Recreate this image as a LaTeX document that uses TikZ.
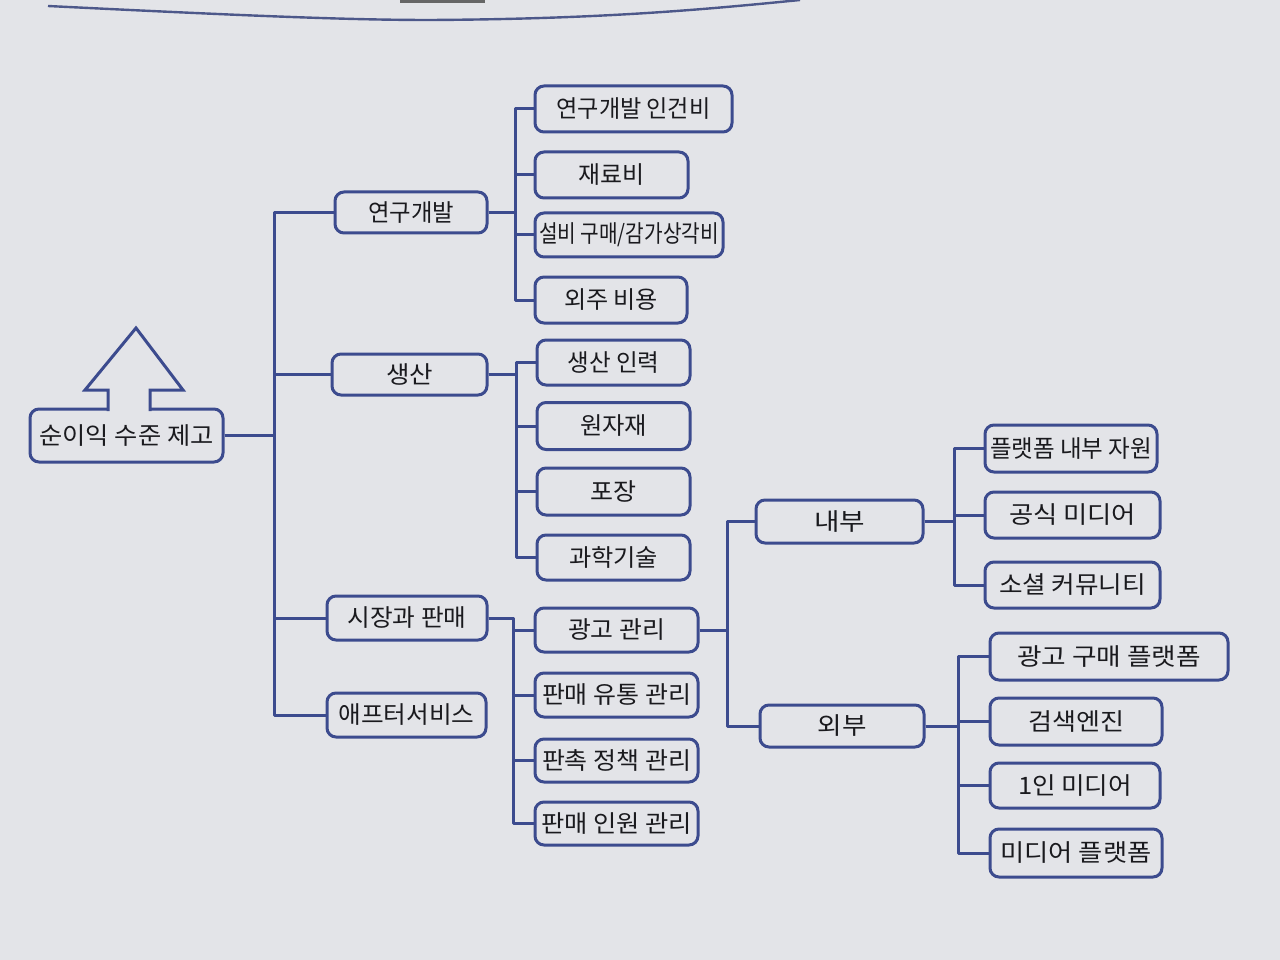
\documentclass[tikz,border=0pt]{standalone}
\usepackage{fontspec}
\newfontfamily\kr{Noto Sans CJK KR}
\definecolor{bg}{HTML}{E3E4E8}
\definecolor{ln}{HTML}{3C4B8E}
\definecolor{tx}{HTML}{1A1A1E}
\newsavebox\fitbox
\newcommand{\fitw}[2]{\sbox\fitbox{#2}\pgfmathsetmacro\fitr{(#1+4)/\the\wd\fitbox}\scalebox{\fitr}[1]{\usebox\fitbox}}
\tikzset{
  box/.style={draw=ln, line width=3pt, rounded corners=9pt, fill=bg, text=tx,
    font=\kr\fontsize{24}{27}\selectfont, inner sep=0pt, align=center},
  conn/.style={draw=ln, line width=3pt, line join=round},
}
\newcommand{\bx}[7]{\node[box, minimum width=#4pt, minimum height=#5pt] (#1) at (#2,#3) {\fitw{#6}{#7}};}
\begin{document}
\begin{tikzpicture}[x=1pt,y=-1pt]
\useasboundingbox (0,0) rectangle (1280,960);
\fill[bg] (0,0) rectangle (1280,960);
% page edge curve
\draw[ln!75!gray, line width=2.4pt] (48,6) .. controls (250,16) and (350,20) .. (430,20) .. controls (600,19) and (700,10) .. (800,0);
\fill[gray!80!black] (400,0) rectangle (485,3);

% nodes
\bx{main}{126.5}{435.5}{193}{53}{170}{순이익 수준 제고}
\bx{rd}{411}{212.5}{152}{41}{82}{연구개발}
\bx{prod}{409.5}{374.5}{155}{41}{43}{생산}
\bx{mkt}{407}{618}{160}{44}{115}{시장과 판매}
\bx{as}{406.5}{715}{159}{44}{132}{애프터서비스}

\bx{r1}{633.5}{109}{197}{46}{150}{연구개발 인건비}
\bx{r2}{611.5}{175}{153}{46}{62}{재료비}
\bx{r3}{629}{235}{188}{44}{176}{설비 구매/감가상각비}
\bx{r4}{611}{300}{152}{46}{90}{외주 비용}

\bx{p1}{613.5}{362.5}{153}{45}{88}{생산 인력}
\bx{p2}{613.5}{426}{153}{47}{63}{원자재}
\bx{p3}{613.5}{491.5}{153}{47}{42}{포장}
\bx{p4}{613.5}{557.5}{153}{45}{85}{과학기술}

\bx{m1}{616.5}{630}{163}{44}{93}{광고 관리}
\bx{m2}{616.5}{695}{163}{44}{145}{판매 유통 관리}
\bx{m3}{616.5}{760.5}{163}{43}{145}{판촉 정책 관리}
\bx{m4}{616.5}{823.5}{163}{43}{147}{판매 인원 관리}

\bx{in}{839.5}{521.5}{167}{43}{47}{내부}
\bx{ex}{842}{726}{164}{42}{45}{외부}

\bx{i1}{1071}{448.5}{172}{47}{158}{플랫폼 내부 자원}
\bx{i2}{1072.5}{515}{175}{46}{123}{공식 미디어}
\bx{i3}{1072.5}{585}{175}{46}{143}{소셜 커뮤니티}

\bx{e1}{1109}{656.5}{238}{47}{180}{광고 구매 플랫폼}
\bx{e2}{1076}{721.5}{172}{47}{92}{검색엔진}
\bx{e3}{1075}{785.5}{170}{45}{110}{1인 미디어}
\bx{e4}{1076}{853}{172}{48}{147}{미디어 플랫폼}

% up arrow on main box
\fill[bg] (109.5,405) rectangle (148.5,412);
\filldraw[draw=ln, fill=bg, line width=3pt, line join=miter]
  (108,411) -- (108,390) -- (85,390) -- (136,328) -- (183,390) -- (150,390) -- (150,411);

% connectors
\foreach \c in {rd,prod,mkt,as} \draw[conn] (main.east) -- ++(50,0) |- (\c.west);
\foreach \c in {r1,r2,r3,r4} \draw[conn] (rd.east) -- ++(27,0) |- (\c.west);
\foreach \c in {p1,p2,p3,p4} \draw[conn] (prod.east) -- ++(28,0) |- (\c.west);
\foreach \c in {m1,m2,m3,m4} \draw[conn] (mkt.east) -- ++(25,0) |- (\c.west);
\foreach \c in {in,ex} \draw[conn] (m1.east) -- ++(28,0) |- (\c.west);
\foreach \c in {i1,i2,i3} \draw[conn] (in.east) -- ++(30,0) |- (\c.west);
\foreach \c in {e1,e2,e3,e4} \draw[conn] (ex.east) -- ++(33,0) |- (\c.west);
\end{tikzpicture}
\end{document}
